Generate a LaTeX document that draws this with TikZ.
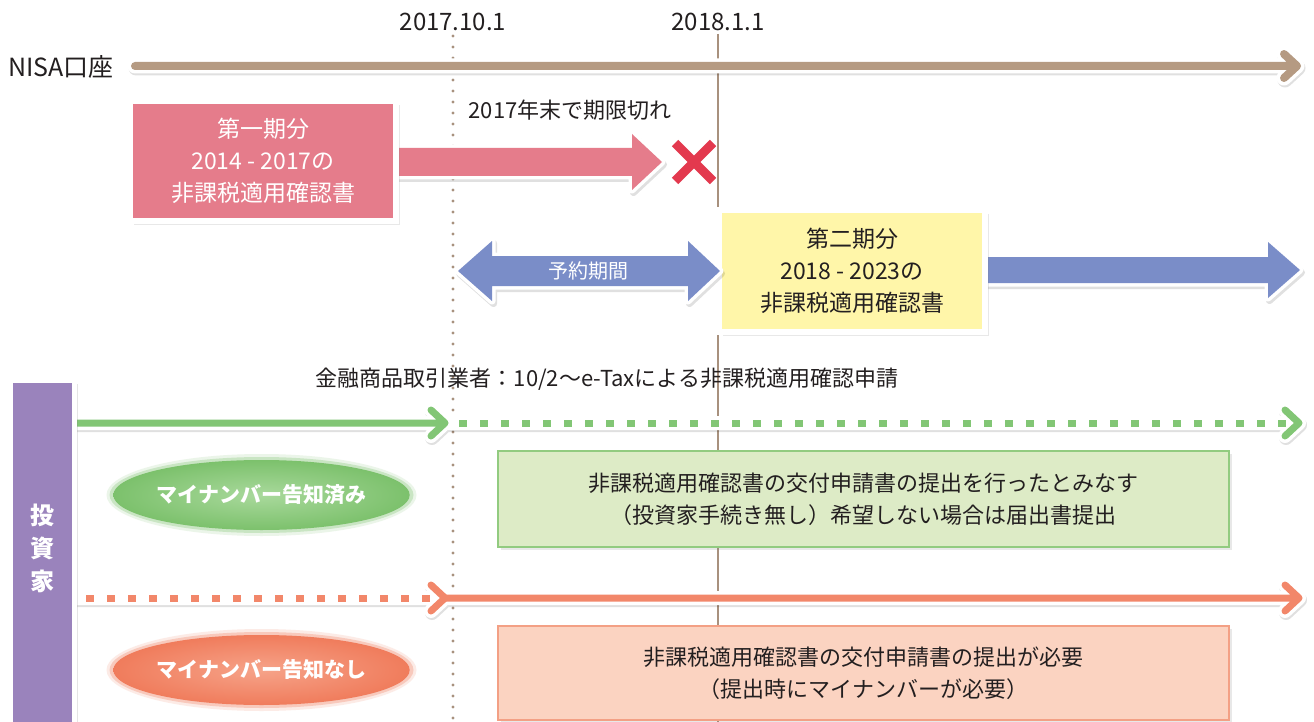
\documentclass[tikz,border=0pt]{standalone}
\usepackage{fontspec}
\setmainfont{Noto Sans CJK JP}
\usetikzlibrary{shapes.geometric,shadows}
\definecolor{nisac}{HTML}{B59A82}
\definecolor{vcol}{HTML}{A8917E}
\definecolor{pinkc}{HTML}{E57C8B}
\definecolor{xcol}{HTML}{E3394E}
\definecolor{bluec}{HTML}{7A8DC8}
\definecolor{yellc}{HTML}{FFF6A9}
\definecolor{purpc}{HTML}{9A83BC}
\definecolor{greenc}{HTML}{82C675}
\definecolor{gboxc}{HTML}{DDEBC6}
\definecolor{gbordc}{HTML}{92CB80}
\definecolor{orangec}{HTML}{F2876A}
\definecolor{oboxc}{HTML}{FBD3C1}
\definecolor{obordc}{HTML}{F3A085}
\definecolor{gellout}{HTML}{7CC16C}
\definecolor{gellin}{HTML}{A9D99C}
\definecolor{oellout}{HTML}{F07C5C}
\definecolor{oellin}{HTML}{F6A389}
\definecolor{textc}{HTML}{231F20}
\begin{document}
\begin{tikzpicture}[x=1pt,y=-1pt,
  lshadow/.style={draw=black, opacity=0.12, line width=#1, line cap=round, line join=round, transform canvas={xshift=1pt,yshift=-2pt}},
  lhalo/.style={draw=white, line width=#1, line cap=round, line join=round},
  bshad/.style={fill=black, draw=black, line width=7, line join=round, opacity=0.12, transform canvas={xshift=1.5pt,yshift=-2.5pt}},
  bhalo/.style={fill=white, draw=white, line width=7, line join=round},
  datelab/.style={font=\fontsize{24}{28}\selectfont, text=textc, inner sep=0pt},
  plain/.style={text=textc, inner sep=0pt},
  framebox/.style={draw=white, line width=6, inner sep=0pt, align=center,
     drop shadow={shadow xshift=3.5pt, shadow yshift=-4pt, opacity=0.18},
     drop shadow={shadow xshift=2pt, shadow yshift=-2.5pt, opacity=0.15}},
  infobox/.style={line width=1.5, inner sep=0pt, align=center, text=textc,
     font=\fontsize{22}{32}\selectfont,
     drop shadow={shadow xshift=2.5pt, shadow yshift=-3pt, opacity=0.18}},
  ellnode/.style={ellipse, minimum width=296, minimum height=70, inner sep=0pt,
     text=white, font=\bfseries\fontsize{21}{24}\selectfont}
]
\useasboundingbox (0,0) rectangle (1314,722);
\fill[white] (0,0) rectangle (1314,722);

% ---- vertical time lines
\coordinate (d1top) at (453,36);
\coordinate (d1bot) at (453,722);
\coordinate (s1top) at (718,34);
\coordinate (s1bot) at (718,722);
\draw[vcol, line width=3.2, line cap=round, dash pattern=on 0pt off 11pt] (d1top) -- (d1bot);
\draw[vcol, line width=2] (s1top) -- (s1bot);

\node[datelab] (d2017) at (453,22) {2017.10.1};
\node[datelab] (d2018) at (718,22) {2018.1.1};

% ---- NISA account arrow
\node[plain, anchor=west, font=\fontsize{25}{28}\selectfont] (nisa) at (8,67) {NISA口座};
\coordinate (nS) at (135,66);
\coordinate (nE) at (1297,66);
\draw[lshadow=15] (nS) -- (nE) (nE) ++(-13,-12) -- (nE) -- ++(-13,12);
\draw[lhalo=15] (nS) -- (nE) (nE) ++(-13,-12) -- (nE) -- ++(-13,12);
\draw[nisac, line width=8, line cap=round, line join=round] (nS) -- (nE) (nE) ++(-13,-12) -- (nE) -- ++(-13,12);

% ---- first period: pink arrow, box, cross
\draw[bshad] (395,148) -- (632,148) -- (632,134) -- (662,162) -- (632,190) -- (632,176) -- (395,176) -- cycle;
\draw[bhalo] (395,148) -- (632,148) -- (632,134) -- (662,162) -- (632,190) -- (632,176) -- (395,176) -- cycle;
\fill[pinkc] (395,148) -- (632,148) -- (632,134) -- (662,162) -- (632,190) -- (632,176) -- (395,176) -- cycle;

\node[framebox, fill=pinkc, minimum width=266, minimum height=120, text=white,
      font=\fontsize{23}{32}\selectfont] (first) at (263,161)
      {第一期分\\2014 - 2017の\\非課税適用確認書};

\node[plain, font=\fontsize{22}{26}\selectfont] (expire) at (570,110) {2017年末で期限切れ};

\coordinate (xc) at (694,162);
\draw[xcol, line width=9] ([shift={(-19,-19)}]xc) -- ([shift={(19,19)}]xc)
                          ([shift={(-19,19)}]xc) -- ([shift={(19,-19)}]xc);

% ---- second period: blue arrow to the right, yellow box, reservation arrow
\draw[bshad] (980,257) -- (1268,257) -- (1268,242) -- (1300,270) -- (1268,298) -- (1268,283) -- (980,283) -- cycle;
\draw[bhalo] (980,257) -- (1268,257) -- (1268,242) -- (1300,270) -- (1268,298) -- (1268,283) -- (980,283) -- cycle;
\fill[bluec] (980,257) -- (1268,257) -- (1268,242) -- (1300,270) -- (1268,298) -- (1268,283) -- (980,283) -- cycle;

\node[framebox, fill=yellc, minimum width=266, minimum height=121, text=textc,
      font=\fontsize{23}{32}\selectfont] (second) at (852,271)
      {第二期分\\2018 - 2023の\\非課税適用確認書};

\draw[bshad] (458,271) -- (492,241) -- (492,256) -- (688,256) -- (688,241) -- (720,271) -- (688,301) -- (688,286) -- (492,286) -- (492,301) -- cycle;
\draw[bhalo] (458,271) -- (492,241) -- (492,256) -- (688,256) -- (688,241) -- (720,271) -- (688,301) -- (688,286) -- (492,286) -- (492,301) -- cycle;
\fill[bluec] (458,271) -- (492,241) -- (492,256) -- (688,256) -- (688,241) -- (720,271) -- (688,301) -- (688,286) -- (492,286) -- (492,301) -- cycle;
\node[text=white, inner sep=0pt, font=\fontsize{20}{24}\selectfont] (resv) at (588,271) {予約期間};

% ---- financial institution line
\node[plain, font=\fontsize{22}{26}\selectfont] (fin) at (607,379)
   {金融商品取引業者：10/2〜e-Taxによる非課税適用確認申請};

% ---- green (my number notified)
\coordinate (gS) at (70,423);
\coordinate (gM) at (445,423);
\coordinate (gD) at (459,423);
\coordinate (gE) at (1299,423);
\draw[lshadow=14] (gS) -- (gE) (gM) ++(-14,-13) -- (gM) -- ++(-14,13) (gE) ++(-14,-13) -- (gE) -- ++(-14,13);
\draw[lhalo=14] (gS) -- (gE) (gM) ++(-14,-13) -- (gM) -- ++(-14,13) (gE) ++(-14,-13) -- (gE) -- ++(-14,13);
\draw[greenc, line width=7, line cap=round, line join=round] (gS) -- (gM) ++(-14,-13) -- (gM) -- ++(-14,13);
\draw[greenc, line width=7, dash pattern=on 8pt off 13pt] (gD) -- ([xshift=-4]gE);
\draw[greenc, line width=7, line cap=round, line join=round] (gE) ++(-14,-13) -- (gE) -- ++(-14,13);

\fill[gellout, opacity=0.15] (261.5,495) ellipse [x radius=155, y radius=41];
\fill[gellout, opacity=0.3] (261.5,495) ellipse [x radius=152, y radius=38];
\node[ellnode, inner color=gellin, outer color=gellout] (gell) at (261.5,495) {マイナンバー告知済み};

\node[infobox, fill=gboxc, draw=gbordc, minimum width=731, minimum height=96] (gbox) at (863.5,499)
   {非課税適用確認書の交付申請書の提出を行ったとみなす\\（投資家手続き無し）希望しない場合は届出書提出};

% ---- orange (my number not notified)
\coordinate (oH) at (70,598);
\coordinate (oS) at (86,598);
\coordinate (oM) at (445,598);
\coordinate (oD) at (453,598);
\coordinate (oE) at (1299,598);
\draw[lshadow=14] (oH) -- (oE) (oM) ++(-14,-13) -- (oM) -- ++(-14,13) (oE) ++(-14,-13) -- (oE) -- ++(-14,13);
\draw[lhalo=14] (oH) -- (oE) (oM) ++(-14,-13) -- (oM) -- ++(-14,13) (oE) ++(-14,-13) -- (oE) -- ++(-14,13);
\draw[orangec, line width=7, dash pattern=on 8pt off 13pt] (oS) -- ([xshift=-4]oM);
\draw[orangec, line width=7, line cap=round, line join=round] (oM) ++(-14,-13) -- (oM) -- ++(-14,13);
\draw[orangec, line width=7, line cap=round, line join=round] (oM) -- (oE) ++(-14,-13) -- (oE) -- ++(-14,13);

\fill[oellout, opacity=0.15] (261.5,670) ellipse [x radius=155, y radius=41];
\fill[oellout, opacity=0.3] (261.5,670) ellipse [x radius=152, y radius=38];
\node[ellnode, inner color=oellin, outer color=oellout] (oell) at (261.5,670) {マイナンバー告知なし};

\node[infobox, fill=oboxc, draw=obordc, minimum width=731, minimum height=94] (obox) at (863.5,673)
   {非課税適用確認書の交付申請書の提出が必要\\（提出時にマイナンバーが必要）};

% ---- investor bar (drawn over the start of the two lines)
\node[draw=white, line width=5, fill=purpc, minimum width=64, minimum height=350, inner sep=0pt,
      drop shadow={shadow xshift=3pt, shadow yshift=-3pt, opacity=0.2}] (inv) at (42.5,555.5) {};
\node[text=white, inner sep=0pt, align=center, font=\bfseries\fontsize{24}{33}\selectfont] (invtxt) at (42.5,548) {投\\資\\家};
\end{tikzpicture}
\end{document}
